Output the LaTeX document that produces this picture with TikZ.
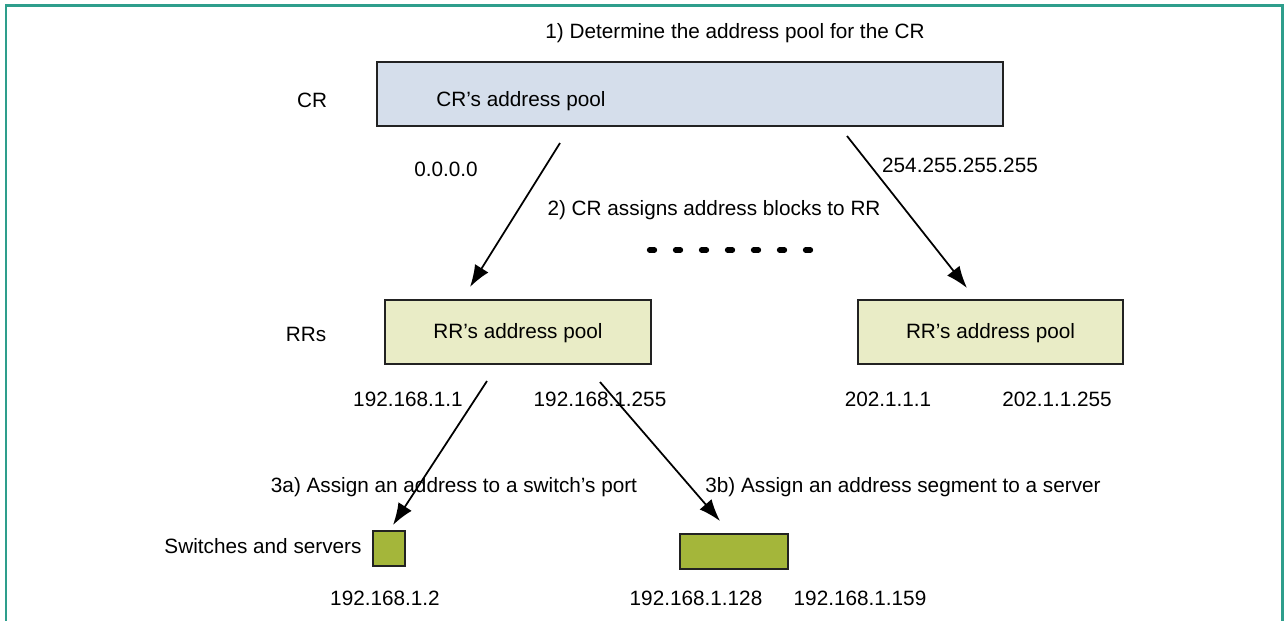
\documentclass[tikz,border=0pt]{standalone}
\usepackage{fontspec}
\setmainfont{Liberation Sans}
\usetikzlibrary{arrows.meta}
\definecolor{frameteal}{HTML}{2E9E8C}
\definecolor{crfill}{HTML}{D5DEEB}
\definecolor{rrfill}{HTML}{E9ECC6}
\definecolor{devfill}{HTML}{A4B63A}
\definecolor{edge}{HTML}{222222}
\tikzset{
  lbl/.style={inner sep=0pt, text height=0.72em, text depth=0pt,
              font=\fontsize{11.8}{14}\selectfont},
  pool/.style={draw=edge, line width=1.1pt, inner sep=0pt, minimum height=1.28cm},
  dev/.style={draw=edge, line width=1.1pt, fill=devfill, inner sep=0pt, minimum height=0.7cm},
  assign/.style={-{Latex[length=12.5pt,width=9pt]}, line width=1pt}
}
\begin{document}
\begin{tikzpicture}[x=0.02cm,y=-0.02cm]
\useasboundingbox (0,0) rectangle (1284,620);
\begin{scope}
  \clip (0,0) rectangle (1284,620);
  \draw[frameteal, line width=1.7pt] (6,5) rectangle (1282,700);
\end{scope}

% step 1: the CR's pool
\node[lbl] (t1) at (735,32) {1) Determine the address pool for the CR};
\node[lbl] (crlbl) at (312,101) {CR};
\node[pool, fill=crfill, minimum width=12.52cm] (cr) at (690,94) {};
\node[lbl] (crtxt) at (521,100) {CR’s address pool};

% step 2: blocks handed to the RRs
\node[lbl] (lo) at (446,170) {0.0.0.0};
\node[lbl] (hi) at (960,166) {254.255.255.255};
\node[lbl] (t2) at (714,209) {2) CR assigns address blocks to RR};
\foreach \cx in {652,678,704,730,756,782,808}
  \draw[line width=3pt, line cap=round] (\cx-2.5,250) -- (\cx+2.5,250);

\node[lbl] (rrlbl) at (306,335) {RRs};
\node[pool, fill=rrfill, minimum width=5.32cm] (rr1) at (518,332) {};
\node[lbl] at (rr1.center) {RR’s address pool};
\node[pool, fill=rrfill, minimum width=5.30cm] (rr2) at (990.5,332) {};
\node[lbl] at (rr2.center) {RR’s address pool};

\node[lbl] (r1lo) at (408,400) {192.168.1.1};
\node[lbl] (r1hi) at (600,400) {192.168.1.255};
\node[lbl] (r2lo) at (888,400) {202.1.1.1};
\node[lbl] (r2hi) at (1057,400) {202.1.1.255};

% step 3: addresses for switches and servers
\node[lbl] (t3a) at (454,486) {3a) Assign an address to a switch’s port};
\node[lbl] (t3b) at (903,486) {3b) Assign an address segment to a server};
\node[lbl] (swlbl) at (263,547) {Switches and servers};
\node[dev, minimum width=0.64cm] (sw) at (389,548.5) {};
\node[dev, minimum width=2.16cm] (srv) at (734,551.5) {};
\node[lbl] (swip) at (385,599) {192.168.1.2};
\node[lbl] (srvlo) at (696,599) {192.168.1.128};
\node[lbl] (srvhi) at (860,599) {192.168.1.159};

% arrow end points
\coordinate (a1s) at (560,143); \coordinate (a1e) at (470,287);
\coordinate (a2s) at (847,136); \coordinate (a2e) at (967,288);
\coordinate (a3s) at (487,381); \coordinate (a3e) at (393,525);
\coordinate (a4s) at (600,382); \coordinate (a4e) at (720,521);
\draw[assign] (a1s) -- (a1e);
\draw[assign] (a2s) -- (a2e);
\draw[assign] (a3s) -- (a3e);
\draw[assign] (a4s) -- (a4e);
\end{tikzpicture}
\end{document}
